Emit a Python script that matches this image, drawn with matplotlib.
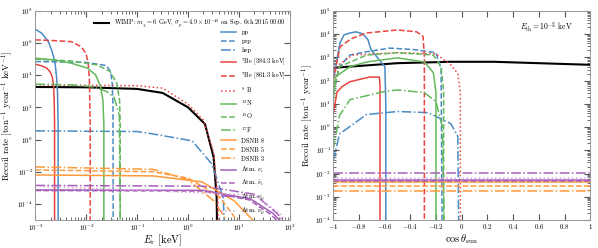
import numpy as np
import matplotlib
matplotlib.use("Agg")
from matplotlib import pyplot as plt

plt.rcParams['font.family'] = 'serif'
plt.rcParams['font.serif'] = ['cmr10', 'DejaVu Serif']
plt.rcParams['mathtext.fontset'] = 'cm'
plt.rcParams['axes.unicode_minus'] = False
plt.rcParams['axes.formatter.use_mathtext'] = True

BLUE = '#4a8bc4'
RED = '#e8433f'
GREEN = '#63b95b'
ORANGE = '#ff9a3c'
PURPLE = '#a560b8'
LPURPLE = '#d9a8e0'

# ---- left panel: (log10 E_r [keV], log10 rate) ----
wimp_E = [-3, -2, -1, -0.5, 0, 0.33, 0.5, 0.56, 0.57]
wimp_R = [3.27, 3.25, 3.15, 2.9, 2.0, 0.97, -1.08, -3.6, -6]

left_series = [
    # label, colour, style, logE, logR
    ('pp', BLUE, '-', [-3, -2.871, -2.744, -2.679, -2.615, -2.583, -2.563, -2.552, -2.552],
     [6.86, 6.61, 6.09, 5.57, 4.85, 3.91, 2.88, 0.97, -6]),
    ('pep', BLUE, '--', [-3, -2, -1.6, -1.52, -1.49, -1.475, -1.47],
     [4.85, 4.8, 4.6, 4.2, 3.5, 2.0, -6]),
    ('hep', BLUE, '-.', [-3, -1, -0.69, 0.08, 0.46, 0.69, 0.72],
     [0.54, 0.5, 0.35, -0.08, -1.5, -3.6, -6]),
    ('$^7$Be [384.3 keV]', RED, '-', [-3, -2.871, -2.775, -2.712, -2.667, -2.64, -2.629, -2.621, -2.621],
     [4.69, 4.58, 4.44, 4.23, 3.91, 3.29, 2.46, 0.97, -6]),
    ('$^7$Be [861.3 keV]', RED, '--', [-3, -2.615, -2.294, -2.102, -2.006, -1.962, -1.937, -1.923, -1.923],
     [6.2, 6.15, 6.09, 5.78, 5.37, 4.75, 3.71, 0.97, -6]),
    ('$^8$ B', RED, ':', [-3, -1, -0.5, 0, 0.3, 0.5, 0.58, 0.6],
     [3.4, 3.35, 3.2, 2.2, 1.2, -0.8, -3.5, -6]),
    ('$^{13}$N', GREEN, '-', [-3, -2.615, -2.294, -1.975, -1.815, -1.719, -1.673, -1.654, -1.654],
     [5.06, 4.95, 4.75, 4.44, 4.02, 3.29, 2.46, 0.97, -6]),
    ('$^{15}$O', GREEN, '--', [-3, -2.294, -1.783, -1.527, -1.40, -1.346, -1.333, -1.333],
     [5.0, 4.89, 4.64, 4.22, 3.5, 2.46, 0.97, -6]),
    ('$^{17}$F', GREEN, '-.', [-3, -2.29, -1.9, -1.6, -1.45, -1.35, -1.33],
     [3.45, 3.4, 3.3, 3.0, 2.6, 1.5, -6]),
    ('DSNB 8', ORANGE, '-', [-3, -0.69, 0.27, 0.9, 1.33],
     [-2.2, -2.26, -2.63, -3.8, -5.2]),
    ('DSNB 5', ORANGE, '--', [-3, -0.69, 0, 0.6, 1.0],
     [-1.89, -2.0, -2.4, -3.5, -5.2]),
    ('DSNB 3', ORANGE, '-.', [-3, -0.69, 0, 0.5, 0.79],
     [-1.70, -1.85, -2.5, -3.8, -5.2]),
    (r'Atm. $\nu_e$', PURPLE, '-', [-3, 0.3, 1.23, 1.67, 1.85],
     [-3.13, -3.16, -3.7, -4.6, -5.2]),
    (r'Atm. $\bar{\nu}_e$', PURPLE, '--', [-3, 0.3, 1.2, 1.6, 1.8],
     [-3.17, -3.2, -3.75, -4.6, -5.2]),
    (r'Atm. $\nu_\mu$', PURPLE, '-.', [-3, 0.3, 1.3, 1.75, 1.9],
     [-2.85, -2.9, -3.4, -4.6, -5.2]),
    (r'Atm. $\bar{\nu}_\mu$', LPURPLE, ':', [-3, 1.3, 1.8, 1.95],
     [-2.9, -3.45, -4.6, -5.2]),
]

# ---- right panel: (cos theta_sun, log10 rate) ----
wimp_cos = [-1, -0.5, -0.085, 0.25, 1]
wimp_ang = [2.55, 2.75, 2.81, 2.81, 2.68]

right_series = [
    (BLUE, '-', [-1, -0.946, -0.915, -0.868, -0.822, -0.767, -0.729, -0.705, -0.597, -0.59, -0.59],
     [2.0, 3.63, 3.97, 4.05, 4.1, 4.01, 3.76, 3.33, 2.6, 1.0, -6]),
    (BLUE, '--', [-1, -0.95, -0.87, -0.74, -0.56, -0.36, -0.2, -0.16, -0.15],
     [1.5, 2.6, 3.1, 3.24, 3.4, 3.33, 3.2, 2.5, -6]),
    (BLUE, '-.', [-1, -0.95, -0.74, -0.5, -0.26, -0.085, -0.03, -0.02],
     [-1.5, -0.3, 0.54, 0.67, 0.62, 0.15, -0.4, -6]),
    (RED, '-', [-1, -0.97, -0.93, -0.87, -0.72, -0.64, -0.635, -0.635],
     [0.5, 1.5, 1.74, 1.95, 2.15, 2.15, 1.8, -6]),
    (RED, '--', [-1, -0.946, -0.86, -0.74, -0.5, -0.35, -0.3, -0.29, -0.29],
     [2.0, 3.45, 3.8, 4.05, 4.18, 4.1, 3.9, 3.0, -6]),
    (RED, ':', [-1, -0.95, -0.85, -0.5, -0.2, -0.085, -0.03, -0.01, -0.01],
     [1.5, 2.7, 3.1, 3.2, 3.15, 2.68, 2.3, 1.5, -6]),
    (GREEN, '-', [-1, -0.98, -0.868, -0.74, -0.5, -0.29, -0.22, -0.2, -0.2],
     [1.0, 2.17, 2.6, 2.8, 2.98, 2.8, 2.34, 1.5, -6]),
    (GREEN, '--', [-1, -0.95, -0.74, -0.5, -0.22, -0.16, -0.14, -0.14],
     [1.5, 2.6, 3.1, 3.2, 3.1, 2.6, 1.5, -6]),
    (GREEN, '-.', [-1, -0.95, -0.868, -0.61, -0.5, -0.29, -0.2, -0.15, -0.13],
     [-1.0, 0.5, 1.18, 1.52, 1.6, 1.48, 1.1, 0.0, -6]),
    (ORANGE, '-', [-1, 1], [-2.35, -2.35]),
    (ORANGE, '--', [-1, 1], [-2.55, -2.55]),
    (ORANGE, '-.', [-1, 1], [-2.76, -2.76]),
    (PURPLE, '-', [-1, 1], [-2.3, -2.3]),
    (PURPLE, '--', [-1, 1], [-2.33, -2.33]),
    (PURPLE, '-.', [-1, 1], [-1.97, -1.97]),
    (LPURPLE, ':', [-1, 1], [-2.2, -2.2]),
]


def style_axis(ax):
    ax.tick_params(which='both', direction='in', top=True, right=True,
                   labelsize=5, color='#555555', pad=1.8)
    ax.tick_params(which='major', length=4)
    ax.tick_params(which='minor', length=2)
    for s in ax.spines.values():
        s.set_color('#999999')
        s.set_linewidth(0.7)


fig = plt.figure(figsize=(5.98, 2.48), dpi=100)
ax1 = fig.add_axes([0.059, 0.113, 0.426, 0.843])
ax2 = fig.add_axes([0.557, 0.113, 0.430, 0.843])

ax1.plot(10 ** np.array(wimp_E), 10 ** np.array(wimp_R), color='k', lw=1.5,
         label=r'WIMP: $m_\chi = 6$ GeV, $\sigma_p = 4.9 \times 10^{-45}$ on Sep. 6th 2015 00:00')
handles = []
for label, c, ls, e, r in left_series:
    h, = ax1.plot(10 ** np.array(e), 10 ** np.array(r), color=c, ls=ls, lw=1.1, label=label)
    handles.append(h)
ax1.set_xscale('log')
ax1.set_yscale('log')
ax1.set_xlim(1e-3, 1e2)
ax1.set_ylim(1e-5, 1e8)
ax1.set_yticks([1e-4, 1e-2, 1e0, 1e2, 1e4, 1e6, 1e8])
ax1.set_xlabel(r'$E_{\rm r}$ [keV]', fontsize=7.5)
ax1.set_ylabel(r'Recoil rate [ton$^{-1}$ year$^{-1}$ keV$^{-1}$]', fontsize=6.5)
ax1.xaxis.set_label_coords(0.5, -0.058)
ax1.yaxis.set_label_coords(-0.078, 0.5)
style_axis(ax1)

wl = ax1.legend(handles=[ax1.lines[0]], loc='upper right', fontsize=4.6, frameon=False,
                handlelength=2.2, borderaxespad=0.3, bbox_to_anchor=(1.0, 0.99))
ax1.add_artist(wl)
ax1.legend(handles=handles, loc='upper right', fontsize=4.6, frameon=False,
           handlelength=2.4, labelspacing=0.5, borderaxespad=0.2,
           bbox_to_anchor=(1.0, 0.93))

ax2.plot(wimp_cos, 10 ** np.array(wimp_ang), color='k', lw=1.5)
for c, ls, x, r in right_series:
    ax2.plot(x, 10 ** np.array(r), color=c, ls=ls, lw=1.1)
ax2.set_yscale('log')
ax2.set_xlim(-1, 1)
ax2.set_ylim(1e-4, 1e5)
ax2.set_xticks([-1, -0.8, -0.6, -0.4, -0.2, 0, 0.2, 0.4, 0.6, 0.8, 1])
ax2.set_xticklabels(['$-1$', '$-0.8$', '$-0.6$', '$-0.4$', '$-0.2$', '$0$',
                     '$0.2$', '$0.4$', '$0.6$', '$0.8$', '$1$'])
ax2.set_xlabel(r'$\cos\theta_{\rm sun}$', fontsize=7.5)
ax2.set_ylabel(r'Recoil rate [ton$^{-1}$ year$^{-1}$]', fontsize=6.5)
ax2.xaxis.set_label_coords(0.5, -0.058)
ax2.yaxis.set_label_coords(-0.072, 0.5)
ax2.text(0.93, 0.92, r'$E_{\rm th} = 10^{-3}$ keV', transform=ax2.transAxes,
         ha='right', va='center', fontsize=5.5)
style_axis(ax2)

fig.savefig('out.png', dpi=100)
